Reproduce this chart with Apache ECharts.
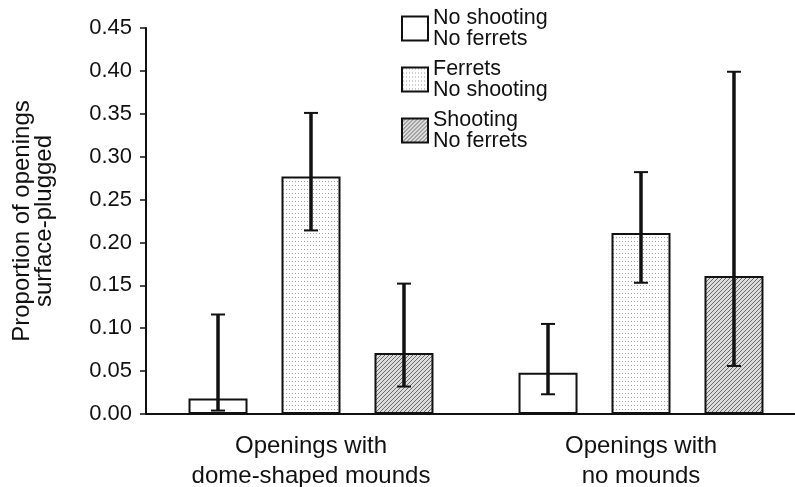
<!DOCTYPE html>
<html>
<head>
<meta charset="utf-8">
<script src="https://cdn.jsdelivr.net/npm/echarts@6/dist/echarts.min.js"></script>
<style>html,body{margin:0;padding:0;background:#fff}#c{width:795px;height:487px}</style>
</head>
<body>
<div id="c"></div>
<script>
// ---- data ----
var categories = ['Openings with\ndome-shaped mounds', 'Openings with\nno mounds'];
var seriesNames = ['No shooting\nNo ferrets', 'Ferrets\nNo shooting', 'Shooting\nNo ferrets'];
var noShootNoFerrets = [0.018, 0.048];
var ferretsNoShoot = [0.277, 0.211];
var shootNoFerrets = [0.071, 0.161];
var errLowNN = [0.004, 0.023];
var errHighNN = [0.116, 0.105];
var errLowF = [0.214, 0.153];
var errHighF = [0.351, 0.282];
var errLowS = [0.032, 0.056];
var errHighS = [0.152, 0.399];
var yTicks = [0, 0.05, 0.10, 0.15, 0.20, 0.25, 0.30, 0.35, 0.40, 0.45];

// ---- patterns ----
function dotPattern() {
  var c = document.createElement('canvas'); c.width = 3; c.height = 4;
  var g = c.getContext('2d');
  g.fillStyle = '#ffffff'; g.fillRect(0, 0, 3, 4);
  g.fillStyle = '#a0a0a0'; g.fillRect(1, 1, 1, 1);
  return c;
}
function hatchPattern() {
  var c = document.createElement('canvas'); c.width = 4; c.height = 4;
  var g = c.getContext('2d');
  g.fillStyle = '#dcdcdc'; g.fillRect(0, 0, 4, 4);
  g.fillStyle = '#6a6a6a';
  g.fillRect(3, 0, 1, 1); g.fillRect(2, 1, 1, 1); g.fillRect(1, 2, 1, 1); g.fillRect(0, 3, 1, 1);
  return c;
}

var BAR_W = 59, BAR_GAP = 0.576;
var fills = ['#ffffff', { image: dotPattern(), repeat: 'repeat' }, { image: hatchPattern(), repeat: 'repeat' }];
var values = [noShootNoFerrets, ferretsNoShoot, shootNoFerrets];
var lows = [errLowNN, errLowF, errLowS];
var highs = [errHighNN, errHighF, errHighS];
var FONT = 'Liberation Sans, Arial, sans-serif';

var series = [];
values.forEach(function (v, i) {
  series.push({
    name: seriesNames[i], type: 'bar', data: v,
    barWidth: BAR_W, barGap: (BAR_GAP * 100) + '%',
    itemStyle: { color: fills[i], borderColor: '#111', borderWidth: 2 },
    z: 2
  });
});
values.forEach(function (v, i) {
  var d = v.map(function (_, k) { return [k, lows[i][k], highs[i][k]]; });
  series.push({
    type: 'custom', data: d, z: 5, silent: true,
    renderItem: function (params, api) {
      var off = (i - 1) * BAR_W * (1 + BAR_GAP);
      var lo = api.coord([api.value(0), api.value(1)]);
      var hi = api.coord([api.value(0), api.value(2)]);
      var x = lo[0] + off, cw = 7;
      var st = { stroke: '#111', lineWidth: 3.5 };
      var st2 = { stroke: '#111', lineWidth: 2 };
      return { type: 'group', children: [
        { type: 'line', shape: { x1: x, y1: lo[1], x2: x, y2: hi[1] }, style: st },
        { type: 'line', shape: { x1: x - cw, y1: hi[1], x2: x + cw, y2: hi[1] }, style: st2 },
        { type: 'line', shape: { x1: x - cw, y1: lo[1], x2: x + cw, y2: lo[1] }, style: st2 }
      ]};
    }
  });
});

var chart = echarts.init(document.getElementById('c'), null, { renderer: 'canvas' });
chart.setOption({
  animation: false,
  backgroundColor: '#ffffff',
  textStyle: { fontFamily: FONT, color: '#111' },
  legend: {
    data: seriesNames, orient: 'vertical', left: 396, top: 2,
    itemWidth: 26, itemHeight: 24, itemGap: 8, selectedMode: false,
    icon: 'rect',
    textStyle: { fontSize: 21.5, lineHeight: 21, color: '#111', fontFamily: FONT }
  },
  grid: { left: 146, top: 28, bottom: 73, right: -11, containLabel: false, outerBoundsMode: 'none' },
  xAxis: {
    type: 'category', data: categories,
    axisLine: { lineStyle: { color: '#111', width: 2 } },
    axisTick: { show: false },
    axisLabel: { fontSize: 24, lineHeight: 30, margin: 17, color: '#111', interval: 0, fontFamily: FONT }
  },
  yAxis: {
    type: 'value', min: 0, max: 0.45, interval: 0.05,
    name: 'Proportion of openings\nsurface-plugged', nameLocation: 'middle', nameGap: 91,
    nameTextStyle: { fontSize: 24, lineHeight: 22, color: '#111', fontFamily: FONT },
    axisLine: { show: true, lineStyle: { color: '#111', width: 2 } },
    axisTick: { show: true, length: 6, inside: false, lineStyle: { color: '#111', width: 1.5 } },
    splitLine: { show: false },
    axisLabel: { fontSize: 22, margin: 14, color: '#111', fontFamily: FONT, formatter: function (v) { return v.toFixed(2); } }
  },
  series: series
});
</script>
</body>
</html>
